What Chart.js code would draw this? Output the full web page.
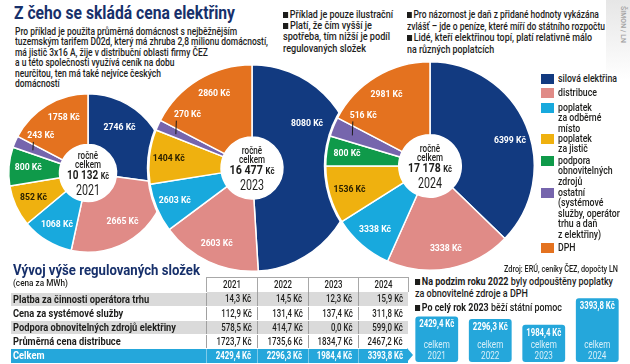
<!DOCTYPE html>
<html>
<head>
<meta charset="utf-8">
<script src="https://cdn.jsdelivr.net/npm/chart.js@4.4.1/dist/chart.umd.min.js"></script>
<style>
    body { margin: 0; background: #fff; }
    #page { position: relative; width: 630px; height: 364px; overflow: hidden; color: #1d1d1b; font-weight: 500;
        font-family: Roboto, "Liberation Sans", sans-serif; }
    #page > div, #page canvas, #page table { position: absolute; }
    .title { left: 14px; top: 3px; font-size: 18.5px; line-height: 20px; font-weight: bold; color: #17306b; white-space: nowrap; }
    .intro { left: 15px; top: 26.5px; font-size: 10.5px; line-height: 10.5px; white-space: nowrap; }
    .note { font-size: 10.5px; line-height: 11.5px; white-space: nowrap; }
    .sq { display: inline-block; width: 6px; height: 6px; background: #1d1d1b; margin-right: 2px; vertical-align: 0; }
    .legend-item { left: 541px; font-size: 10.5px; line-height: 10.5px; white-space: pre-line; }
    .legend-item span.sw { position: absolute; left: 0; top: 0; width: 13px; height: 10px; }
    .legend-item span.tx { display: inline-block; margin-left: 17px; white-space: pre; }
    .sub-title { left: 13px; top: 262px; font-size: 15px; line-height: 17px; font-weight: bold; color: #17306b; white-space: nowrap; }
    .unit { left: 13px; top: 277.5px; font-size: 8.5px; line-height: 10px; white-space: nowrap; }
    #regTable { left: 11px; top: 277px; border-collapse: collapse; table-layout: fixed; font-size: 10px; }
    #regTable td { padding: 0 5px 0 2px; height: 13px; line-height: 13px; white-space: nowrap; border-bottom: 1px solid #fff; }
    #regTable td span { display: inline-block; white-space: nowrap; }
    #regTable td.v, #regTable td.y { position: relative; }
    #regTable td.v span.num { position: absolute; right: 5px; top: 0; }
    #regTable td.y span.num { position: absolute; left: 0; right: 0; top: 0; text-align: center; line-height: 14px; }
    #regTable tr.hd td { height: 14px; text-align: center; padding: 0; }
    #regTable tr.hd td.y { border: 1px solid #a8a8a8; border-bottom: none; }
    #regTable tr.g td { background: #dadada; }
    #regTable td.v { text-align: right; border-left: 1px solid #a0a0a0; }
    #regTable td.lab { font-weight: bold; }
    #regTable tr.tot td { background: #25a7db; color: #fff; font-weight: bold; height: 14px; border-left-color: #7fcbea; }
    #regTable tr.tot td.v span.num { line-height: 14px; }
    .arrow { left: 407px; top: 348px; width: 0; height: 0; border-left: 6px solid #25a7db; border-top: 7px solid transparent; border-bottom: 7px solid transparent; }
</style>
</head>
<body>
<div id="page">
    <div style="left:606px;top:0;width:24px;height:80px;background:linear-gradient(#e6e6e6,#fff);"></div>
    <div style="left:627px;top:6px;font-size:7px;color:#a0a0a0;transform:rotate(90deg);transform-origin:0 0;white-space:nowrap;">ŠIMON / LN</div>

    <div class="title" data-fit="221">Z čeho se skládá cena elektřiny</div>
    <div class="intro" data-fit="253">Pro příklad je použita průměrná domácnost s nejběžnějším<br>tuzemským tarifem D02d, který má zhruba 2,8 milionu domácností,<br>má jistič 3x16 A, žije v distribuční oblasti firmy ČEZ<br>a u této společnosti využívá ceník na dobu<br>neurčitou, ten má také nejvíce českých<br>domácností</div>

    <div class="note" data-fit="110" style="left:283px;top:9px;"><span class="sq"></span>Příklad je pouze ilustrační</div>
    <div class="note" data-fit="107" style="left:283px;top:19.5px;"><span class="sq"></span>Platí, že čím vyšší je<br>spotřeba, tím nižší je podíl<br>regulovaných složek</div>
    <div class="note" data-fit="198" style="left:407px;top:9px;"><span class="sq"></span>Pro názornost je daň z přidané hodnoty vykázána<br>zvlášť – jde o peníze, které míří do státního rozpočtu</div>
    <div class="note" data-fit="185" style="left:407px;top:32px;"><span class="sq"></span>Lidé, kteří elektřinou topí, platí relativně málo<br>na různých poplatcích</div>

    <canvas id="pie2021" width="166" height="166" style="left:5px;top:90px;"></canvas>
    <canvas id="pie2023" width="214" height="214" style="left:145px;top:61px;"></canvas>
    <canvas id="pie2024" width="216" height="216" style="left:322px;top:58px;"></canvas>

    <div id="legend" style="left:0;top:0;"></div>
    <div data-fit="118" data-origin="right" style="left:480px;top:264px;width:138px;text-align:right;font-size:8.5px;line-height:10px;white-space:nowrap;">Zdroj: ERÚ, ceníky ČEZ, dopočty LN</div>

    <div class="sub-title" data-fit="187">Vývoj výše regulovaných složek</div>
    <div class="unit" data-fit="55">(cena za MWh)</div>
    <table id="regTable"></table>
    <div class="arrow"></div>

    <div class="note" data-fit="198" style="left:415px;top:275.5px;line-height:12.5px;"><span class="sq"></span><b>Na podzim roku 2022</b> byly odpouštěny poplatky<br>za obnovitelné zdroje a DPH</div>
    <div class="note" data-fit="147" style="left:415px;top:302px;"><span class="sq"></span><b>Po celý rok 2023</b> běží státní pomoc</div>

    <canvas id="totalsBar" width="214" height="78" style="left:410px;top:286px;"></canvas>
</div>

<script>
// --- pie data (Kč per year) ---
const components = ['silová elektřina', 'distribuce', 'poplatek\nza odběrné\nmísto', 'poplatek\nza jistič',
    'podpora\nobnovitelných\nzdrojů', 'ostatní\n(systémové\nslužby, operátor\ntrhu a daň\nz elektřiny)', 'DPH'];
const values2021 = [2746, 2665, 1068, 852, 800, 243, 1758];
const values2023 = [8080, 2603, 1260, 1404, 0, 270, 2860];
const values2024 = [6399, 3338, 1608, 1536, 800, 516, 2981];
// numbers printed on the slices (the odběrné místo figure is printed differently from its slice)
const printed2021 = [2746, 2665, 1068, 852, 800, 243, 1758];
const printed2023 = [8080, 2603, 2603, 1404, 0, 270, 2860];
const printed2024 = [6399, 3338, 3338, 1536, 800, 516, 2981];
const pieTotals = ['10 132', '16 477', '17 178'];
const pieYears = ['2021', '2023', '2024'];

// --- regulated components table (Kč/MWh) ---
const tableYears = ['2021', '2022', '2023', '2024'];
const tableRows = ['Platba za činnosti operátora trhu', 'Cena za systémové služby',
    'Podpora obnovitelných zdrojů elektřiny', 'Průměrná cena distribuce'];
const operatorFee = [14.3, 14.5, 12.3, 15.9];
const systemServices = [112.9, 131.4, 137.4, 311.8];
const renewablesSupport = [578.5, 414.7, 0.0, 599.0];
const distributionPrice = [1723.7, 1735.6, 1834.7, 2467.2];
const regulatedTotals = [2429.4, 2296.3, 1984.4, 3393.8];

const FONT = 'Roboto, "Liberation Sans", sans-serif';
const sliceColors = ['#123a80', '#e08b87', '#18a9dd', '#efb10f', '#0f9a4a', '#7665ad', '#e4721f'];
const sliceTextColors = ['#fff', '#fff', '#fff', '#2b2100', '#fff', '#fff', '#fff'];
const legendCenters = [79, 93, 108, 139, 161, 193, 248];

function kc(v) {
    return v.toFixed(1).replace('.', ',') + ' Kč';
}

// the original uses a condensed face, so text is squeezed horizontally to its measured width
function squeeze(ctx, font, sample, target) {
    ctx.font = font;
    return target / ctx.measureText(sample).width;
}

function condText(ctx, text, x, y, sx, align) {
    ctx.save();
    ctx.translate(x, y);
    ctx.scale(sx, 1);
    ctx.textAlign = align || 'center';
    ctx.fillText(text, 0, 0);
    ctx.restore();
}

function fitWidth(el, target, origin) {
    const w = el.getBoundingClientRect().width;
    const s = target / w;
    el.style.transformOrigin = (origin || 'left') + ' top';
    el.style.transform = 'scaleX(' + s + ')';
    return s;
}

const pieText = {
    id: 'pieText',
    beforeDatasetsDraw(chart) {
        const a = chart.getDatasetMeta(0).data[0];
        const ctx = chart.ctx;
        ctx.save();
        ctx.beginPath();
        ctx.arc(a.x, a.y, a.outerRadius + 2, 0, Math.PI * 2);
        ctx.fillStyle = '#fff';
        ctx.fill();
        ctx.restore();
    },
    afterDatasetsDraw(chart, args, opts) {
        const ctx = chart.ctx;
        const arcs = chart.getDatasetMeta(0).data;
        const labelFont = 'bold 9.5px ' + FONT;
        const sxLabel = squeeze(ctx, labelFont, '2746 Kč', 32);
        ctx.save();
        ctx.textBaseline = 'middle';
        arcs.forEach(function (arc, i) {
            const shown = opts.printed[i];
            if (!shown) return;
            const p = arc.getProps(['x', 'y', 'startAngle', 'endAngle', 'innerRadius', 'outerRadius'], true);
            const frac = opts.angleFrac[i] !== undefined ? opts.angleFrac[i] : 0.5;
            const ang = p.startAngle + (p.endAngle - p.startAngle) * frac;
            const rf = opts.radiusFrac[i] !== undefined ? opts.radiusFrac[i] : opts.ringFrac;
            const r = p.innerRadius + (p.outerRadius - p.innerRadius) * rf;
            const shift = opts.pointer[i] || 0;
            const la = ang + shift * Math.PI / 180;
            const lx = p.x + r * Math.cos(la), ly = p.y + r * Math.sin(la);
            if (shift) {
                const tx = p.x + r * Math.cos(ang), ty = p.y + r * Math.sin(ang);
                ctx.beginPath();
                ctx.moveTo(tx + 0.5, ly + 6);
                ctx.lineTo(tx, ty + 1);
                ctx.strokeStyle = '#1d1d1b';
                ctx.lineWidth = 1;
                ctx.stroke();
            }
            ctx.font = labelFont;
            ctx.fillStyle = sliceTextColors[i];
            condText(ctx, shown + ' Kč', lx, ly, sxLabel);
        });

        const c = arcs[0];
        ctx.fillStyle = '#1d1d1b';
        const smallFont = '500 10.5px ' + FONT;
        const sxSmall = squeeze(ctx, smallFont, 'celkem', 26);
        condText(ctx, 'ročně', c.x, c.y - 17, sxSmall);
        condText(ctx, 'celkem', c.x, c.y - 7.5, sxSmall);

        const numFont = 'bold 13px ' + FONT, kcFont = 'bold 9.5px ' + FONT;
        ctx.font = numFont;
        const w1 = ctx.measureText(opts.total + ' ').width;
        ctx.font = kcFont;
        const w2 = ctx.measureText('Kč').width;
        const sxNum = opts.totalWidth / (w1 + w2);
        const x0 = c.x - opts.totalWidth / 2;
        ctx.font = numFont;
        condText(ctx, opts.total + ' ', x0, c.y + 3, sxNum, 'left');
        ctx.font = kcFont;
        condText(ctx, 'Kč', x0 + w1 * sxNum, c.y + 4, sxNum, 'left');

        const yearFont = '15px ' + FONT;
        const sxYear = squeeze(ctx, yearFont, '2021', 24);
        condText(ctx, opts.year, c.x, c.y + 18, sxYear);
        ctx.restore();
    }
};

function renderPie(id, values, printed, total, year, cutout, ringFrac, angleFrac, radiusFrac, totalWidth) {
    const ctx = document.getElementById(id).getContext('2d');
    return new Chart(ctx, {
        type: 'doughnut',
        data: {
            labels: components,
            datasets: [{
                data: values,
                backgroundColor: sliceColors,
                borderColor: '#fff',
                borderWidth: 1.5
            }]
        },
        options: {
            responsive: false,
            animation: false,
            cutout: cutout,
            layout: {padding: 3},
            plugins: {
                legend: {display: false},
                tooltip: {enabled: false},
                pieText: {
                    printed: printed, total: total, year: year, ringFrac: ringFrac,
                    angleFrac: angleFrac, radiusFrac: radiusFrac, totalWidth: totalWidth,
                    pointer: [0, 0, 0, 0, 0, 15, 0]
                }
            }
        },
        plugins: [pieText]
    });
}

renderPie('pie2021', values2021, printed2021, pieTotals[0], pieYears[0], '36%', 0.62,
    [0.36, , , , , , 0.62], [0.52], 42);
renderPie('pie2023', values2023, printed2023, pieTotals[1], pieYears[1], '30%', 0.73,
    [0.29, , , , , , 0.57], [0.55], 45);
renderPie('pie2024', values2024, printed2024, pieTotals[2], pieYears[2], '30%', 0.72,
    [0.54], [], 44);

// legend
const legend = document.getElementById('legend');
components.forEach(function (name, i) {
    const item = document.createElement('div');
    item.className = 'legend-item';
    item.style.position = 'absolute';
    item.style.top = (legendCenters[i] - 5.25) + 'px';
    item.innerHTML = '<span class="sw" style="background:' + sliceColors[i] + '"></span><span class="tx">' + name + '</span>';
    legend.appendChild(item);
});
const legendTexts = legend.querySelectorAll('span.tx');
const legendScale = 59 / legendTexts[0].getBoundingClientRect().width;
legendTexts.forEach(function (el) {
    el.style.transformOrigin = 'left top';
    el.style.transform = 'scaleX(' + legendScale + ')';
});

// table
function renderTable() {
    const rows = [operatorFee, systemServices, renewablesSupport, distributionPrice];
    let html = '<colgroup><col style="width:195px"><col style="width:51px"><col style="width:51px"><col style="width:50px"><col style="width:50px"></colgroup>';
    html += '<tr class="hd"><td></td>' + tableYears.map(function (y) { return '<td class="y"><span class="num">' + y + '</span></td>'; }).join('') + '</tr>';
    rows.forEach(function (row, r) {
        html += '<tr class="' + (r % 2 === 0 ? 'g' : '') + '"><td class="lab"><span class="lb">' + tableRows[r] + '</span></td>' +
            row.map(function (v) { return '<td class="v"><span class="num">' + kc(v) + '</span></td>'; }).join('') + '</tr>';
    });
    html += '<tr class="tot"><td><span class="lb">Celkem</span></td>' + regulatedTotals.map(function (v) { return '<td class="v"><span class="num">' + kc(v) + '</span></td>'; }).join('') + '</tr>';
    const table = document.getElementById('regTable');
    table.innerHTML = html;

    const labels = table.querySelectorAll('span.lb');
    const labScale = 163 / labels[2].getBoundingClientRect().width;
    labels.forEach(function (el) {
        el.style.transformOrigin = 'left top';
        el.style.transform = 'scaleX(' + labScale + ')';
    });
    const nums = table.querySelectorAll('span.num');
    const numScale = 35 / nums[4 + 12].getBoundingClientRect().width;
    nums.forEach(function (el) {
        const inHeader = el.parentNode.classList.contains('y');
        el.style.transformOrigin = (inHeader ? 'center' : 'right') + ' top';
        el.style.transform = 'scaleX(' + numScale + ')';
    });
}
renderTable();

document.querySelectorAll('[data-fit]').forEach(function (el) {
    fitWidth(el, +el.dataset.fit, el.dataset.origin);
});

// totals bars
const barText = {
    id: 'barText',
    afterDatasetsDraw(chart) {
        const ctx = chart.ctx;
        const bottom = chart.chartArea.bottom;
        const valFont = 'bold 10px ' + FONT, capFont = '10.5px ' + FONT;
        const sxVal = squeeze(ctx, valFont, kc(regulatedTotals[0]), 35);
        const sxCap = squeeze(ctx, capFont, 'celkem', 26);
        ctx.save();
        ctx.textBaseline = 'middle';
        chart.getDatasetMeta(0).data.forEach(function (bar, i) {
            ctx.fillStyle = '#fff';
            ctx.font = valFont;
            condText(ctx, kc(regulatedTotals[i]), bar.x, bar.y + 8.5, sxVal);
            ctx.fillStyle = 'rgba(255,255,255,0.82)';
            ctx.font = capFont;
            condText(ctx, 'celkem', bar.x, bottom - 17, sxCap);
            condText(ctx, tableYears[i], bar.x, bottom - 6, sxCap);
        });
        ctx.restore();
    }
};

new Chart(document.getElementById('totalsBar').getContext('2d'), {
    type: 'bar',
    data: {
        labels: tableYears,
        datasets: [{
            data: regulatedTotals,
            backgroundColor: '#25a7db',
            borderRadius: 3,
            borderSkipped: false,
            barPercentage: 0.8,
            categoryPercentage: 1
        }]
    },
    options: {
        responsive: false,
        animation: false,
        layout: {padding: {bottom: 2}},
        plugins: {legend: {display: false}, tooltip: {enabled: false}},
        scales: {
            x: {display: false},
            y: {display: false, min: 0, max: 4050}
        }
    },
    plugins: [barText]
});
</script>
</body>
</html>
